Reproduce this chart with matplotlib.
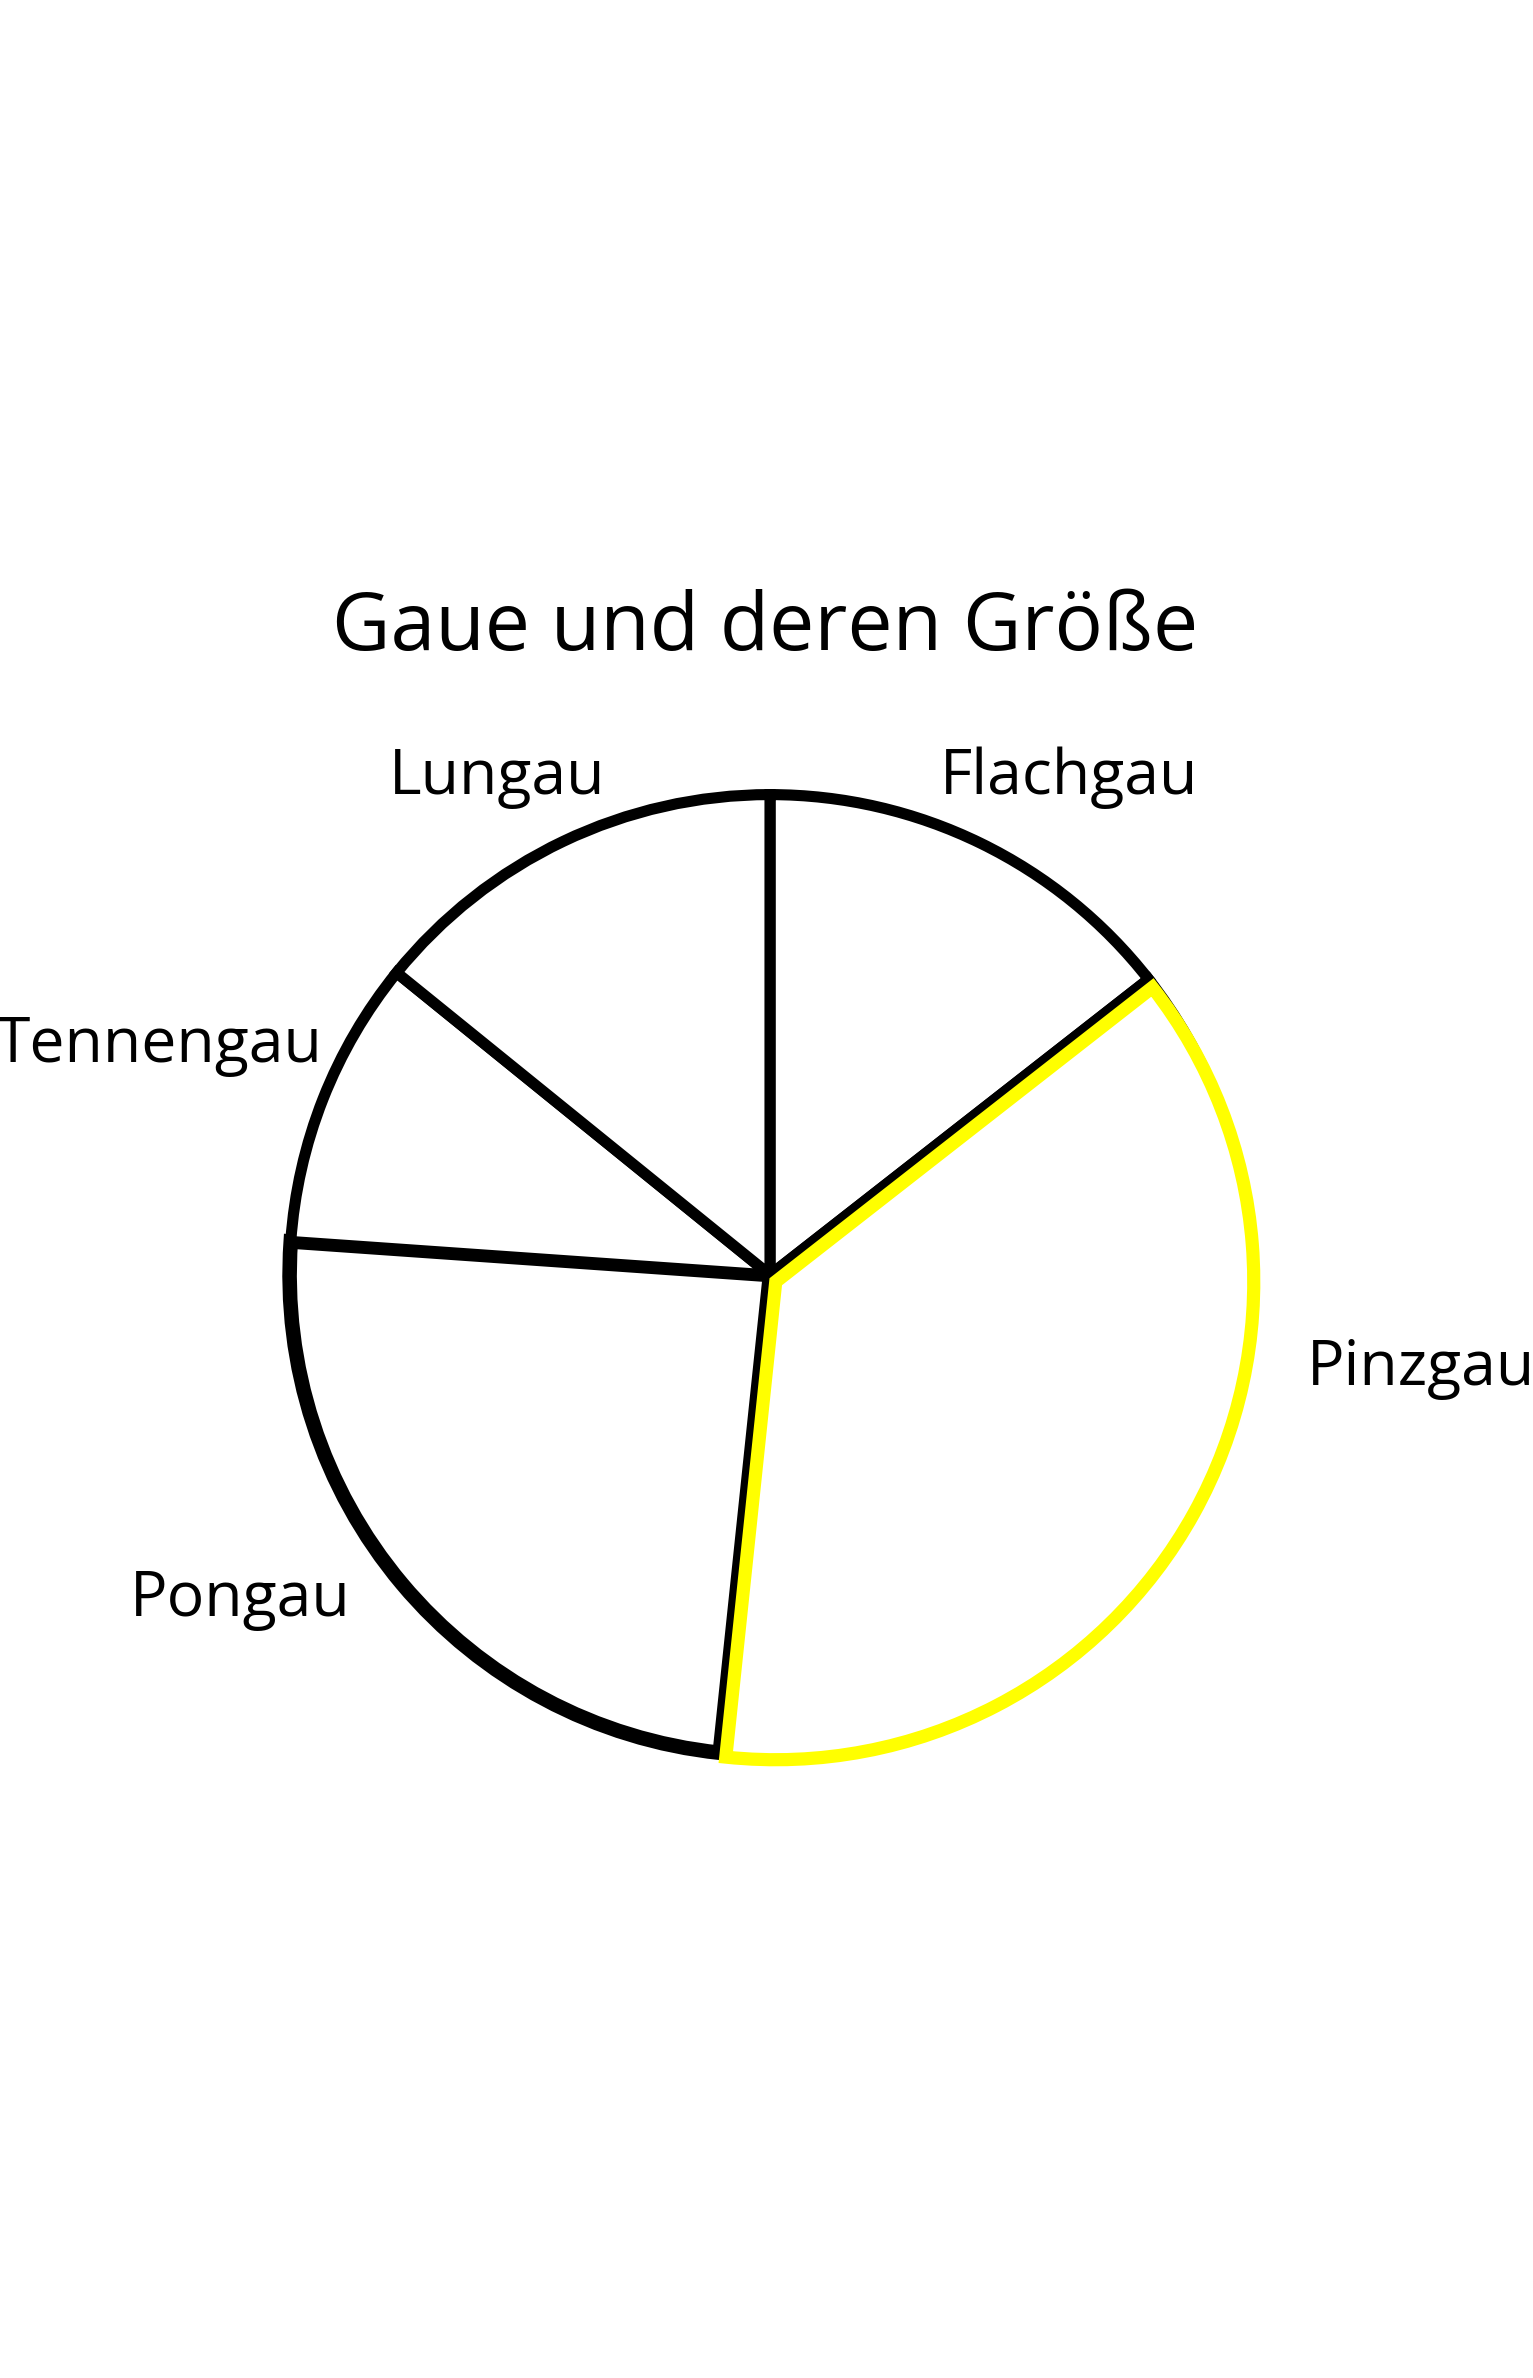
import matplotlib
matplotlib.use("Agg")
import matplotlib.pyplot as plt
from matplotlib.patches import Wedge

categories = ["Flachgau", "Pinzgau", "Pongau", "Tennengau", "Lungau"]
values = [52, 134, 88, 35, 51]
title = "Gaue und deren Größe"

W, H = 1533, 2378
fig = plt.figure(figsize=(W / 100, H / 100), dpi=100)
fig.patch.set_facecolor("white")

cx, cy, r = 770, 1275, 490
ax = fig.add_axes([(cx - r) / W, (H - cy - r) / H, 2 * r / W, 2 * r / H])
wedges, _ = ax.pie(values, startangle=90, counterclock=False, radius=1.0,
                   colors=["white"] * len(values),
                   wedgeprops=dict(edgecolor="black", linewidth=8, joinstyle="miter"))
ax.set_xlim(-1.02, 1.02)
ax.set_ylim(-1.02, 1.02)
ax.set_aspect("equal")
ax.axis("off")
for wd in wedges:
    wd.set_clip_on(False)

# Pongau drawn with a heavier outline
wedges[2].set_linewidth(10.5)

# Highlighted Pinzgau slice (yellow outline on top)
w = wedges[1]
hl = Wedge((w.center[0] + 0.012, w.center[1] - 0.014), w.r * 0.995, w.theta1, w.theta2,
           facecolor="white", edgecolor="#FFFF00", linewidth=9.5, joinstyle="miter", zorder=5)
hl.set_clip_on(False)
ax.add_patch(hl)

font = "Open Sans"
fig.text(765 / W, 1 - 629 / H, title, ha="center", va="center", fontsize=58, family=font)
label_pos = {
    "Flachgau": (1069, 778),
    "Pinzgau": (1421, 1369),
    "Pongau": (240, 1600),
    "Tennengau": (159, 1046),
    "Lungau": (497, 778),
}
for c in categories:
    x, y = label_pos[c]
    fig.text(x / W, 1 - y / H, c, ha="center", va="center", fontsize=45, family=font)

fig.savefig("out.png", dpi=100, facecolor="white")
